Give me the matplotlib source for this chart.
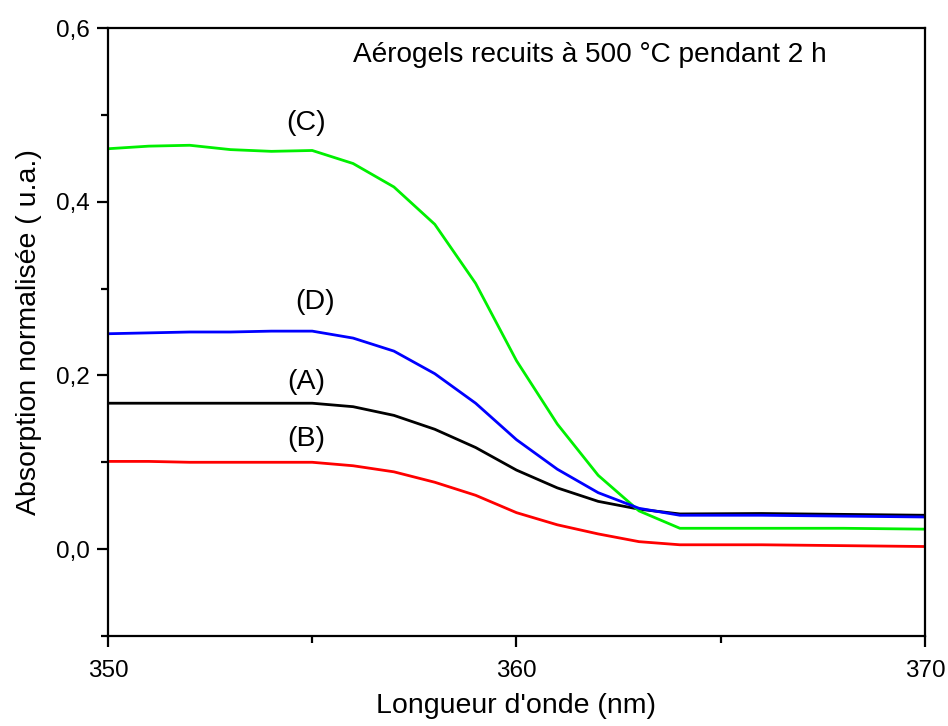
import matplotlib
matplotlib.use("Agg")
import matplotlib.pyplot as plt
from matplotlib.ticker import MultipleLocator

plt.rcParams['font.family'] = ['Liberation Sans', 'DejaVu Sans']

wavelength = [350, 351, 352, 353, 354, 355, 356, 357, 358, 359, 360, 361, 362, 363, 364, 366, 368, 370]
abs_A = [0.168, 0.168, 0.168, 0.168, 0.168, 0.168, 0.164, 0.154, 0.138, 0.117, 0.091, 0.0705, 0.055, 0.046, 0.0405, 0.041, 0.040, 0.039]
abs_B = [0.101, 0.101, 0.100, 0.100, 0.100, 0.100, 0.096, 0.089, 0.077, 0.062, 0.042, 0.028, 0.0175, 0.0086, 0.005, 0.005, 0.004, 0.003]
abs_C = [0.461, 0.464, 0.465, 0.460, 0.458, 0.459, 0.444, 0.417, 0.374, 0.306, 0.217, 0.144, 0.085, 0.044, 0.024, 0.024, 0.024, 0.023]
abs_D = [0.248, 0.249, 0.250, 0.250, 0.251, 0.251, 0.243, 0.228, 0.202, 0.168, 0.126, 0.092, 0.065, 0.047, 0.039, 0.039, 0.038, 0.037]

series_labels = ["(A)", "(B)", "(C)", "(D)"]
label_x = [354.85, 354.85, 354.85, 355.07]
label_y = [0.192, 0.127, 0.491, 0.284]

yticks = [0.0, 0.2, 0.4, 0.6]
yticklabels = ["0,0", "0,2", "0,4", "0,6"]
xticks = [350, 360, 370]
xticklabels = ["350", "360", "370"]

title_text = "Aérogels recuits à 500 °C pendant 2 h"
xlabel = "Longueur d'onde (nm)"
ylabel = "Absorption normalisée ( u.a.)"

fig = plt.figure(figsize=(9.48, 7.26), dpi=100)
ax = fig.add_axes([0.1139, 0.1240, 0.8618, 0.8374])

colors = ["#000000", "#ff0000", "#00f000", "#0000ff"]
for ys, c in zip([abs_A, abs_B, abs_C, abs_D], colors):
    ax.plot(wavelength, ys, color=c, lw=2.0)

for lab, lx, ly in zip(series_labels, label_x, label_y):
    ax.text(lx, ly, lab, fontsize=20.5, ha='center', va='center')

ax.text(361.8, 0.569, title_text, fontsize=20.2, ha='center', va='center')

ax.set_xlim(350, 370)
ax.set_ylim(-0.1, 0.6)
ax.set_xticks(xticks)
ax.set_xticklabels(xticklabels)
ax.set_yticks(yticks)
ax.set_yticklabels(yticklabels)
ax.xaxis.set_minor_locator(MultipleLocator(5))
ax.yaxis.set_minor_locator(MultipleLocator(0.1))

ax.tick_params(which='major', direction='out', length=8, width=1.6, labelsize=17.5)
ax.tick_params(axis='x', which='major', pad=9)
ax.tick_params(axis='y', which='major', pad=5)
ax.tick_params(which='minor', direction='out', length=5, width=1.6)
ax.tick_params(top=False, right=False)
for s in ax.spines.values():
    s.set_linewidth(1.6)

ax.set_xlabel(xlabel, fontsize=20.5, labelpad=8)
ax.set_ylabel(ylabel, fontsize=20.5, labelpad=10)

fig.savefig("out.png", dpi=100)
